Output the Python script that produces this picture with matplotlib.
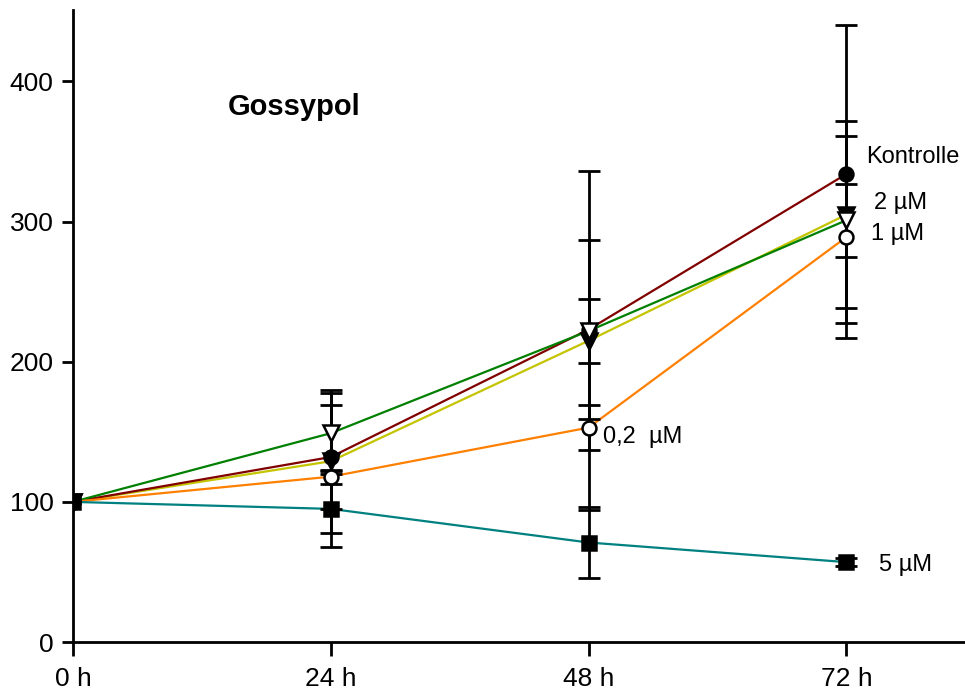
import matplotlib
matplotlib.use("Agg")
import matplotlib.pyplot as plt

plt.rcParams['font.family'] = ['Liberation Sans', 'DejaVu Sans']

# ============ 数据 ============
hours = [0, 24, 48, 72]
tick_labels = ['0 h', '24 h', '48 h', '72 h']

kontrolle = [100, 132, 223, 334]
kontrolle_err = [0, 37, 64, 106]

um02 = [100, 118, 153, 289]
um02_err = [0, 5, 16, 72]

um1 = [100, 129, 215, 305]
um1_err = [0, 51, 121, 67]

um2 = [100, 149, 222, 301]
um2_err = [0, 29, 23, 26]

um5 = [100, 95, 71, 57]
um5_err = [0, 27, 25, 3]

series = [
    # (values, errors, line colour, marker, marker fill)
    (um1, um1_err, '#C4C400', 'v', 'black'),
    (kontrolle, kontrolle_err, '#800000', 'o', 'black'),
    (um2, um2_err, '#008000', 'v', 'white'),
    (um02, um02_err, '#FF8000', 'o', 'white'),
    (um5, um5_err, '#008080', 's', 'black'),
]

labels = [
    ('Kontrolle', 73.8, 346),
    ('2 µM', 74.6, 313),
    ('1 µM', 74.3, 291),
    ('0,2  µM', 49.3, 146),
    ('5 µM', 75.0, 55),
]

fig = plt.figure(figsize=(9.65, 6.91), dpi=100)
ax = fig.add_axes([0.0756, 0.0709, 0.924, 0.9146])

# lines first
for vals, err, col, mk, fc in series:
    ax.plot(hours, vals, color=col, linewidth=1.6, zorder=2)

# error bars
for vals, err, col, mk, fc in series:
    ax.errorbar(hours[1:], vals[1:], yerr=err[1:], fmt='none', ecolor='black',
                elinewidth=2, capsize=8, capthick=2, zorder=3)

# markers
for i, (vals, err, col, mk, fc) in enumerate(series):
    ms = 12 if mk == 'v' else 10
    ax.plot(hours, vals, linestyle='none', marker=mk, markersize=ms,
            markerfacecolor=fc, markeredgecolor='black', markeredgewidth=1.8, zorder=4 + i)

for txt, x, y in labels:
    ax.text(x, y, txt, fontsize=17, va='center', ha='left')

ax.text(14.4, 382, 'Gossypol', fontsize=21, fontweight='bold', va='center', ha='left')

ax.set_xlim(0, 83)
ax.set_ylim(0, 451)
ax.set_xticks(hours)
ax.set_xticklabels(tick_labels)
ax.set_yticks([0, 100, 200, 300, 400])

for side in ['top', 'right']:
    ax.spines[side].set_visible(False)
for side in ['left', 'bottom']:
    ax.spines[side].set_linewidth(2)

ax.tick_params(axis='y', direction='out', length=8, width=2, labelsize=19, pad=6)
ax.tick_params(axis='x', direction='out', length=10, width=2, labelsize=19, pad=8)

plt.savefig('out.png', dpi=100)
